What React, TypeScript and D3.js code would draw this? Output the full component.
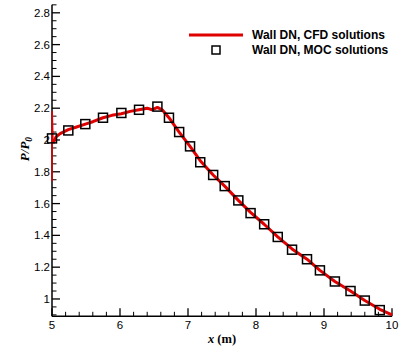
import React from "react";
import * as d3 from "d3";

const cfdX = [5.0, 5.003, 5.015, 5.06, 5.12, 5.24, 5.35, 5.49, 5.6, 5.75, 5.88, 6.02, 6.15, 6.28, 6.4, 6.47, 6.55, 6.62, 6.72, 6.87, 7.03, 7.18, 7.37, 7.54, 7.74, 7.92, 8.12, 8.32, 8.53, 8.75, 8.94, 9.16, 9.39, 9.6, 9.82, 10.0];
const cfdY = [1.74, 2.18, 1.98, 2.02, 2.04, 2.065, 2.08, 2.1, 2.115, 2.14, 2.155, 2.165, 2.18, 2.19, 2.2, 2.19, 2.205, 2.19, 2.14, 2.05, 1.96, 1.87, 1.78, 1.71, 1.62, 1.545, 1.47, 1.39, 1.315, 1.25, 1.18, 1.11, 1.05, 0.99, 0.935, 0.9];

const mocX = [5.0, 5.24, 5.49, 5.75, 6.02, 6.28, 6.55, 6.72, 6.87, 7.03, 7.18, 7.37, 7.54, 7.74, 7.92, 8.12, 8.32, 8.53, 8.75, 8.94, 9.16, 9.39, 9.6, 9.82];
const mocY = [2.01, 2.06, 2.1, 2.14, 2.17, 2.19, 2.21, 2.14, 2.05, 1.96, 1.86, 1.78, 1.71, 1.62, 1.54, 1.47, 1.39, 1.31, 1.25, 1.18, 1.11, 1.05, 0.99, 0.93];

const xMajor = [5, 6, 7, 8, 9, 10];
const yMajor = [1, 1.2, 1.4, 1.6, 1.8, 2, 2.2, 2.4, 2.6, 2.8];
const legendLabels = ["Wall DN, CFD solutions", "Wall DN, MOC solutions"];

export default function App() {
  const x = d3.scaleLinear().domain([5, 10]).range([52, 392]);
  const y = d3.scaleLinear().domain([0.891, 2.851]).range([316.3, 4.7]);

  const xMinor = d3.range(5, 10.001, 0.2).filter((v) => Math.abs(v - Math.round(v)) > 1e-6);
  const yMinor = d3.range(0.9, 2.851, 0.05).filter((v) => !yMajor.some((m) => Math.abs(m - v) < 1e-6));

  const spikeN = 3;
  const line = d3
    .line<number>()
    .x((_, i) => x(cfdX[i + spikeN - 1]))
    .y((d) => y(d))
    .curve(d3.curveLinear);
  const spike = d3
    .line<number>()
    .x((_, i) => x(cfdX[i]))
    .y((d) => y(d));

  const tickFont = "Liberation Sans, Arial, sans-serif";
  const x0 = x(5);
  const yb = y(0.891);

  return (
    <svg width={400} height={349} style={{ position: "absolute", left: 0, top: 0, background: "#fff" }}>
      {/* axes */}
      <line x1={x0} x2={x0} y1={y(2.851)} y2={yb} stroke="#000" strokeWidth={1.5} />
      <line x1={x0} x2={x(10)} y1={yb} y2={yb} stroke="#000" strokeWidth={1.5} />
      {yMajor.map((v) => (
        <g key={"ym" + v}>
          <line x1={x0} x2={x0 + 8} y1={y(v)} y2={y(v)} stroke="#000" strokeWidth={1.3} />
          <text x={x0 - 2} y={y(v)} dy="0.35em" textAnchor="end" fontFamily={tickFont} fontSize={11.5} fill="#000">
            {d3.format("")(v)}
          </text>
        </g>
      ))}
      {yMinor.map((v) => (
        <line key={"yn" + v} x1={x0} x2={x0 + 4.5} y1={y(v)} y2={y(v)} stroke="#000" strokeWidth={1} />
      ))}
      {xMajor.map((v) => (
        <g key={"xm" + v}>
          <line x1={x(v)} x2={x(v)} y1={yb} y2={yb - 8} stroke="#000" strokeWidth={1.3} />
          <text x={x(v)} y={yb + 13} textAnchor="middle" fontFamily={tickFont} fontSize={11.5} fill="#000">
            {v}
          </text>
        </g>
      ))}
      {xMinor.map((v) => (
        <line key={"xn" + v} x1={x(v)} x2={x(v)} y1={yb} y2={yb - 4.5} stroke="#000" strokeWidth={1} />
      ))}

      {/* CFD line */}
      <path d={spike(cfdY.slice(0, spikeN)) || ""} fill="none" stroke="#e00000" strokeWidth={1.5} />
      <path d={line(cfdY.slice(spikeN - 1)) || ""} fill="none" stroke="#e00000" strokeWidth={3} strokeLinejoin="round" />
      {/* MOC markers */}
      {mocY.map((v, i) => (
        <rect key={"m" + i} x={x(mocX[i]) - 4.5} y={y(v) - 4.5} width={9} height={9} fill="none" stroke="#000" strokeWidth={1.5} />
      ))}

      {/* legend */}
      <line x1={189} x2={243} y1={35} y2={35} stroke="#e00000" strokeWidth={3} />
      <rect x={212} y={46} width={8} height={8} fill="none" stroke="#000" strokeWidth={1.5} />
      {legendLabels.map((t, i) => (
        <text key={t} x={252} y={35 + i * 15} dy="0.35em" fontFamily={tickFont} fontWeight="bold" fontSize={12} fill="#000">
          {t}
        </text>
      ))}

      {/* axis titles */}
      <text x={222} y={343} textAnchor="middle" fontFamily="Liberation Serif, Times New Roman, serif" fontWeight="bold" fontSize={12.5} fill="#000">
        <tspan fontStyle="italic">x</tspan> (m)
      </text>
      <text
        transform="translate(29,149) rotate(-90)"
        textAnchor="middle"
        fontFamily="Liberation Serif, Times New Roman, serif"
        fontWeight="bold"
        fontStyle="italic"
        fontSize={13}
        fill="#000"
      >
        P/P<tspan dy="3" fontSize={9.5}>0</tspan>
      </text>
    </svg>
  );
}
